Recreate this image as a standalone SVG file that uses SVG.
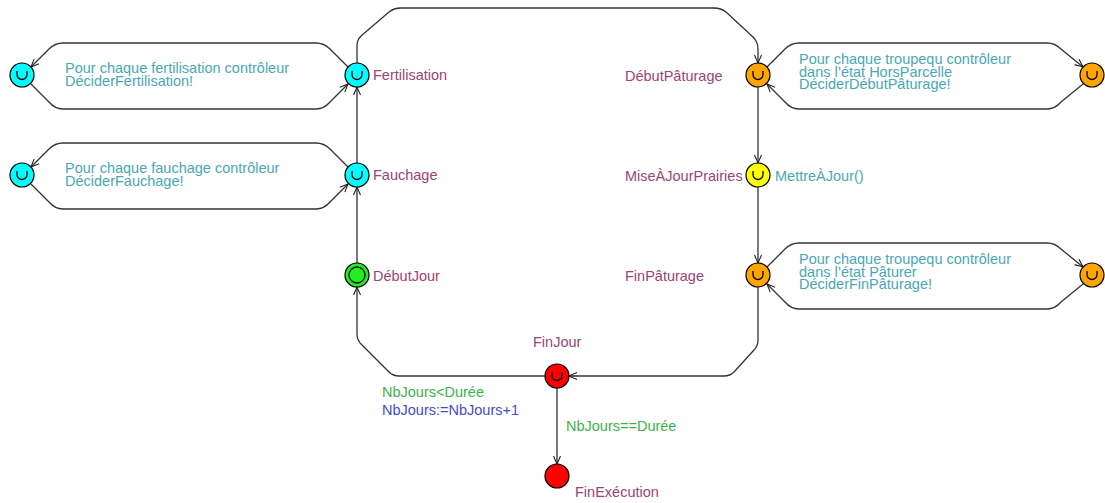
<svg xmlns="http://www.w3.org/2000/svg" width="1105" height="503" viewBox="0 0 1105 503">
<style>
text{font-family:"Liberation Sans",Arial,sans-serif;font-size:14.5px}
.name{fill:#9c4472}
.act{fill:#4aa8b2}
.grd{fill:#3cb44a}
.upd{fill:#4a4ac4}
.edge{fill:none;stroke:#333;stroke-width:1.3}
.loc{stroke:#000;stroke-width:1.2}
.u{fill:none;stroke:#000;stroke-width:1.3}
</style>
<defs>
<marker id="ah" markerWidth="12" markerHeight="10" refX="0" refY="0" viewBox="-10 -5 12 10" orient="auto" markerUnits="userSpaceOnUse">
<path d="M-8,-3.5 L0,0 L-8,3.5" fill="none" stroke="#222" stroke-width="1.1"/>
</marker>
<path id="usym" d="M-5,-4 v3.5 a5,5 0 0 0 10,0 v-3.5"/>
</defs>
<g id="connectors">
<path class="edge" marker-end="url(#ah)" d="M357,63 L357,46 Q357,40 361,36 L389,12 Q394,8 401,8 L714,8 Q721,8 726,12 L753,37 Q758,42 758,49 L758,63"/>
<path class="edge" marker-end="url(#ah)" d="M348,67 L330,49 Q324,43 316,43 L63,43 Q55,43 49,49 L31,67"/>
<path class="edge" marker-end="url(#ah)" d="M31,84 L49,102 Q55,109 63,109 L316,109 Q324,109 330,102 L348,84"/>
<path class="edge" marker-end="url(#ah)" d="M348,167 L330,149 Q324,143 316,143 L63,143 Q55,143 49,149 L31,167"/>
<path class="edge" marker-end="url(#ah)" d="M31,184 L49,202 Q55,209 63,209 L316,209 Q324,209 330,202 L348,184"/>
<path class="edge" marker-end="url(#ah)" d="M767,67 L785,49 Q791,43 799,43 L1047,43 Q1055,43 1061,49 L1083,67"/>
<path class="edge" marker-end="url(#ah)" d="M1083,84 L1061,102 Q1055,109 1047,109 L799,109 Q791,109 785,102 L767,84"/>
<path class="edge" marker-end="url(#ah)" d="M767,267 L785,249 Q791,243 799,243 L1047,243 Q1055,243 1061,249 L1083,267"/>
<path class="edge" marker-end="url(#ah)" d="M1083,284 L1061,302 Q1055,309 1047,309 L799,309 Q791,309 785,302 L767,284"/>
<path class="edge" marker-end="url(#ah)" d="M758,87 L758,163"/>
<path class="edge" marker-end="url(#ah)" d="M758,187 L758,263"/>
<path class="edge" marker-end="url(#ah)" d="M758,287 L758,340 Q758,346 754,350 L734,372 Q730,376 724,376 L569,376"/>
<path class="edge" marker-end="url(#ah)" d="M545,376 L399,376 Q393,376 389,372 L361,344 Q357,340 357,334 L357,287"/>
<path class="edge" marker-end="url(#ah)" d="M357,263 L357,187"/>
<path class="edge" marker-end="url(#ah)" d="M357,163 L357,87"/>
<path class="edge" marker-end="url(#ah)" d="M557,388 L557,464"/>
</g>
<g id="Fertilisation">
<circle class="loc" cx="357" cy="75" r="12" fill="#00ffff"/>
<use href="#usym" x="357" y="75" class="u"/>
<text class="name" x="373" y="80">Fertilisation</text>
</g>
<g id="FertLoop">
<circle class="loc" cx="22" cy="75" r="12" fill="#00ffff"/>
<use href="#usym" x="22" y="75" class="u"/>
<text class="act" x="65" y="73">Pour chaque fertilisation contrôleur<tspan x="65" dy="12.5">DéciderFertilisation!</tspan></text>
</g>
<g id="Fauchage">
<circle class="loc" cx="357" cy="175" r="12" fill="#00ffff"/>
<use href="#usym" x="357" y="175" class="u"/>
<text class="name" x="373" y="180">Fauchage</text>
</g>
<g id="FauchLoop">
<circle class="loc" cx="22" cy="175" r="12" fill="#00ffff"/>
<use href="#usym" x="22" y="175" class="u"/>
<text class="act" x="65" y="173">Pour chaque fauchage contrôleur<tspan x="65" dy="12.5">DéciderFauchage!</tspan></text>
</g>
<g id="DebutJour">
<circle class="loc" cx="357" cy="275" r="12" fill="#22ee22"/>
<circle class="u" cx="357" cy="275" r="8"/>
<text class="name" x="373" y="281">DébutJour</text>
</g>
<g id="DebutPaturage">
<circle class="loc" cx="758" cy="75" r="12" fill="#ffa500"/>
<use href="#usym" x="758" y="75" class="u"/>
<text class="name" x="625" y="81">DébutPâturage</text>
</g>
<g id="DebutPatLoop">
<circle class="loc" cx="1092" cy="75" r="12" fill="#ffa500"/>
<use href="#usym" x="1092" y="75" class="u"/>
<text class="act" x="799" y="64">Pour chaque troupequ contrôleur<tspan x="799" dy="12.5">dans l’état HorsParcelle</tspan><tspan x="799" dy="12.5">DéciderDébutPâturage!</tspan></text>
</g>
<g id="MiseAJourPrairies">
<circle class="loc" cx="758" cy="175" r="12" fill="#ffff00"/>
<use href="#usym" x="758" y="175" class="u"/>
<text class="name" x="625" y="181">MiseÀJourPrairies</text>
<text class="act" x="775" y="181">MettreÀJour()</text>
</g>
<g id="FinPaturage">
<circle class="loc" cx="758" cy="275" r="12" fill="#ffa500"/>
<use href="#usym" x="758" y="275" class="u"/>
<text class="name" x="625" y="281">FinPâturage</text>
</g>
<g id="FinPatLoop">
<circle class="loc" cx="1092" cy="275" r="12" fill="#ffa500"/>
<use href="#usym" x="1092" y="275" class="u"/>
<text class="act" x="799" y="264">Pour chaque troupequ contrôleur<tspan x="799" dy="12.5">dans l’état Pâturer</tspan><tspan x="799" dy="12.5">DéciderFinPâturage!</tspan></text>
</g>
<g id="FinJour">
<circle class="loc" cx="557" cy="376" r="12" fill="#ff0000"/>
<use href="#usym" x="557" y="376" class="u"/>
<text class="name" x="533" y="347">FinJour</text>
<text class="grd" x="382" y="397">NbJours&lt;Durée</text>
<text class="upd" x="382" y="415">NbJours:=NbJours+1</text>
<text class="grd" x="566" y="431">NbJours==Durée</text>
</g>
<g id="FinExecution">
<circle class="loc" cx="557" cy="476" r="12" fill="#ff0000"/>
<text class="name" x="575" y="497">FinExécution</text>
</g>
</svg>
